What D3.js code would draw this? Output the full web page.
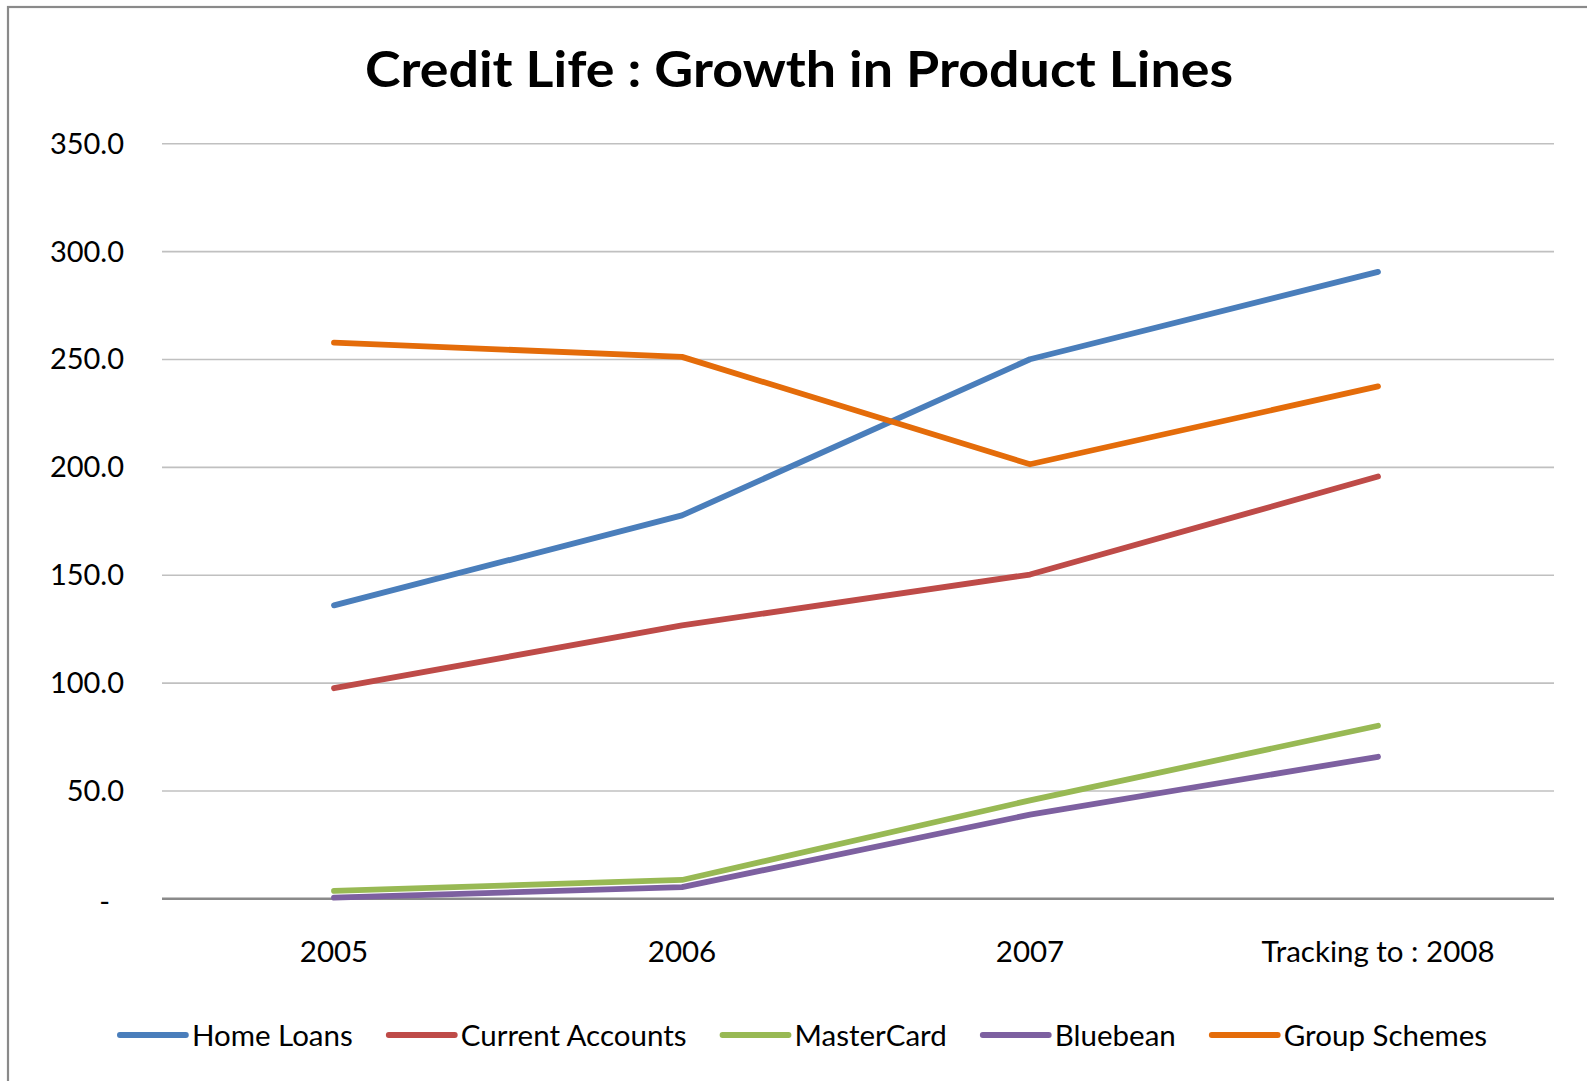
<!DOCTYPE html>
<html>
<head>
<meta charset="utf-8">
<script src="https://cdn.jsdelivr.net/npm/d3@7"></script>
<style>
  html, body { margin: 0; padding: 0; background: #fff; }
  svg { display: block; }
  text { font-family: Lato, "Open Sans", sans-serif; fill: #000; }
</style>
</head>
<body>
<svg id="chart" width="1587" height="1081"></svg>
<script>
// Chart data
const categories = ["2005", "2006", "2007", "Tracking to : 2008"];
const seriesNames = ["Home Loans", "Current Accounts", "MasterCard", "Bluebean", "Group Schemes"];
const homeLoans       = [135.8, 177.5, 249.9, 290.4];
const currentAccounts = [97.4, 126.5, 150.1, 195.5];
const masterCard      = [3.4, 8.5, 45.4, 80.0];
const bluebean        = [0.3, 5.2, 38.8, 65.6];
const groupSchemes    = [257.6, 251.0, 201.2, 237.3];
const yTicks = [0, 50, 100, 150, 200, 250, 300, 350];
const seriesColors = ["#4A7EBB", "#BE4B48", "#98B954", "#7D60A0", "#E46C0A"];

const seriesValues = [homeLoans, currentAccounts, masterCard, bluebean, groupSchemes];

const svg = d3.select("#chart");

// outer frame
svg.append("rect")
  .attr("x", 8).attr("y", 7)
  .attr("width", 1700).attr("height", 1200)
  .attr("fill", "#fff")
  .attr("stroke", "#8a8a8a").attr("stroke-width", 2.2);

const plot = { left: 162, right: 1554, top: 143.3, bottom: 898.3 };

const x = d3.scaleBand().domain(categories).range([plot.left - 2, plot.right - 2]);
const y = d3.scaleLinear().domain([0, 350]).range([plot.bottom, plot.top]);

// title
svg.append("text")
  .attr("x", 799).attr("y", 87)
  .attr("text-anchor", "middle")
  .style("font-weight", "bold")
  .style("font-size", "50px")
  .attr("textLength", 868)
  .attr("lengthAdjust", "spacingAndGlyphs")
  .text("Credit Life : Growth in Product Lines");

// horizontal gridlines and value labels
const yAxis = d3.axisLeft(y)
  .tickValues(yTicks)
  .tickSize(0)
  .tickPadding(0)
  .tickFormat(d => d === 0 ? "-" : d3.format(".1f")(d));

const gy = svg.append("g").attr("transform", `translate(${plot.left},0)`).call(yAxis);
gy.select(".domain").remove();
gy.selectAll(".tick line")
  .attr("x2", plot.right - plot.left)
  .attr("stroke", d => d === 0 ? "#8a8a8a" : "#c0c0c0")
  .attr("stroke-width", d => d === 0 ? 2.4 : 1.6);
gy.selectAll(".tick text")
  .attr("x", d => d === 0 ? -52 : -38)
  .attr("dy", d => d === 0 ? "0.45em" : "0.34em")
  .style("font-size", "29px")
  .style("font-family", "Lato, sans-serif")
  .attr("fill", "#000");

// category labels
const xAxis = d3.axisBottom(x).tickSize(0).tickPadding(0);
const gx = svg.append("g").attr("transform", `translate(0,${plot.bottom})`).call(xAxis);
gx.select(".domain").remove();
gx.selectAll(".tick text")
  .attr("y", 64)
  .attr("dy", 0)
  .style("font-size", "29.5px")
  .style("font-family", "Lato, sans-serif")
  .attr("fill", "#000");

// series lines
const line = d3.line()
  .x((d, i) => x(categories[i]) + x.bandwidth() / 2)
  .y(d => y(d));

svg.append("g").selectAll("path")
  .data(seriesValues)
  .join("path")
  .attr("d", line)
  .attr("fill", "none")
  .attr("stroke", (d, i) => seriesColors[i])
  .attr("stroke-width", 5.8)
  .attr("stroke-linecap", "round")
  .attr("stroke-linejoin", "round");

// legend
const legend = svg.append("g");
const swatchW = 66, swatchGap = 6, itemGap = 36, legendY = 1035;
let cursor = 0;
seriesNames.forEach((name, i) => {
  const g = legend.append("g");
  g.append("line")
    .attr("x1", 0).attr("x2", swatchW)
    .attr("y1", 0).attr("y2", 0)
    .attr("stroke", seriesColors[i])
    .attr("stroke-width", 5.8)
    .attr("stroke-linecap", "round");
  const t = g.append("text")
    .attr("x", swatchW + swatchGap)
    .attr("y", 0).attr("dy", "0.36em")
    .style("font-size", "29.5px")
    .text(name);
  const w = swatchW + swatchGap + t.node().getComputedTextLength();
  g.attr("transform", `translate(${cursor},${legendY})`);
  cursor += w + itemGap;
});
const legendWidth = cursor - itemGap;
legend.attr("transform", `translate(${803.5 - legendWidth / 2},0)`);
</script>
</body>
</html>
